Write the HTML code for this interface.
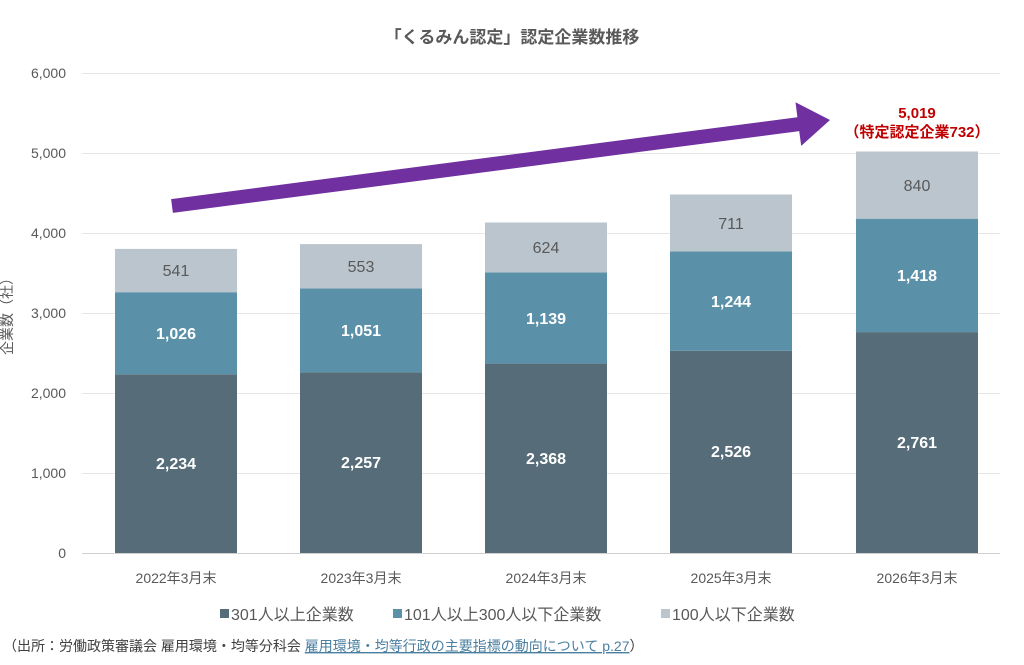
<!DOCTYPE html>
<html><head><meta charset="utf-8"><style>
html,body{margin:0;padding:0;background:#fff;}
svg text{font-family:"Liberation Sans","Noto Sans CJK JP",sans-serif;}
</style></head><body>
<svg width="1024" height="660" viewBox="0 0 1024 660" xmlns="http://www.w3.org/2000/svg">
<rect width="1024" height="660" fill="#fff"/>
<text x="512" y="43" text-anchor="middle" font-size="17" font-weight="bold" fill="#595959">「くるみん認定」認定企業数推移</text>
<g stroke="#e6e6e6" stroke-width="1">
<line x1="82" x2="1000" y1="73.5" y2="73.5"/><line x1="82" x2="1000" y1="153.5" y2="153.5"/>
<line x1="82" x2="1000" y1="233.5" y2="233.5"/><line x1="82" x2="1000" y1="313.5" y2="313.5"/>
<line x1="82" x2="1000" y1="393.5" y2="393.5"/><line x1="82" x2="1000" y1="473.5" y2="473.5"/>
</g>
<line x1="82" x2="1000" y1="553.5" y2="553.5" stroke="#d0d0d0"/>
<g font-size="14" fill="#595959" text-anchor="end">
<text x="66" y="78">6,000</text><text x="66" y="158">5,000</text><text x="66" y="238">4,000</text>
<text x="66" y="318">3,000</text><text x="66" y="398">2,000</text><text x="66" y="478">1,000</text><text x="66" y="558">0</text>
</g>
<text transform="translate(12,313) rotate(-90)" text-anchor="middle" font-size="14" fill="#595959">企業数（社）</text>
<g>
<rect x="115" y="374.3" width="122" height="178.7" fill="#566d79"/><rect x="115" y="292.2" width="122" height="82.1" fill="#5b91a8"/><rect x="115" y="248.9" width="122" height="43.3" fill="#bac5cd"/>
<rect x="300" y="372.4" width="122" height="180.6" fill="#566d79"/><rect x="300" y="288.4" width="122" height="84" fill="#5b91a8"/><rect x="300" y="244.1" width="122" height="44.3" fill="#bac5cd"/>
<rect x="485" y="363.6" width="122" height="189.4" fill="#566d79"/><rect x="485" y="272.4" width="122" height="91.2" fill="#5b91a8"/><rect x="485" y="222.5" width="122" height="49.9" fill="#bac5cd"/>
<rect x="670" y="350.9" width="122" height="202.1" fill="#566d79"/><rect x="670" y="251.4" width="122" height="99.5" fill="#5b91a8"/><rect x="670" y="194.5" width="122" height="56.9" fill="#bac5cd"/>
<rect x="856" y="332.1" width="122" height="220.9" fill="#566d79"/><rect x="856" y="218.7" width="122" height="113.4" fill="#5b91a8"/><rect x="856" y="151.5" width="122" height="67.2" fill="#bac5cd"/>
</g>
<g font-size="16" font-weight="bold" fill="#fff" text-anchor="middle">
<text x="176" y="469">2,234</text><text x="361" y="468">2,257</text><text x="546" y="464">2,368</text><text x="731" y="457">2,526</text><text x="917" y="448">2,761</text>
<text x="176" y="339">1,026</text><text x="361" y="336">1,051</text><text x="546" y="324">1,139</text><text x="731" y="307">1,244</text><text x="917" y="281">1,418</text>
</g>
<g font-size="16" fill="#595959" text-anchor="middle">
<text x="176" y="276">541</text><text x="361" y="272">553</text><text x="546" y="253">624</text><text x="731" y="229">711</text><text x="917" y="191">840</text>
</g>
<g font-size="14" fill="#595959" text-anchor="middle">
<text x="176" y="583">2022年3月末</text><text x="361" y="583">2023年3月末</text><text x="546" y="583">2024年3月末</text><text x="731" y="583">2025年3月末</text><text x="917" y="583">2026年3月末</text>
</g>
<polygon points="172.9,212.9 799.2,131.1 801.2,145.9 830,120 795.5,102.3 797.4,117.2 171.1,199.1" fill="#7030a0"/>
<g font-size="15" font-weight="bold" fill="#c00000" text-anchor="middle">
<text x="917" y="118">5,019</text><text x="917" y="137">（特定認定企業732）</text>
</g>
<g font-size="16" fill="#595959">
<rect x="220" y="609" width="9" height="9" fill="#566d79"/><text x="231" y="620">301人以上企業数</text>
<rect x="393" y="609" width="9" height="9" fill="#5b91a8"/><text x="404" y="620">101人以上300人以下企業数</text>
<rect x="661" y="609" width="9" height="9" fill="#bac5cd"/><text x="672" y="620">100人以下企業数</text>
</g>
<text x="3" y="651" font-size="14" fill="#404040">（出所：労働政策審議会 雇用環境・均等分科会 <tspan fill="#4a7fa0" text-decoration="underline">雇用環境・均等行政の主要指標の動向について p.27</tspan>）</text>
</svg>
</body></html>
